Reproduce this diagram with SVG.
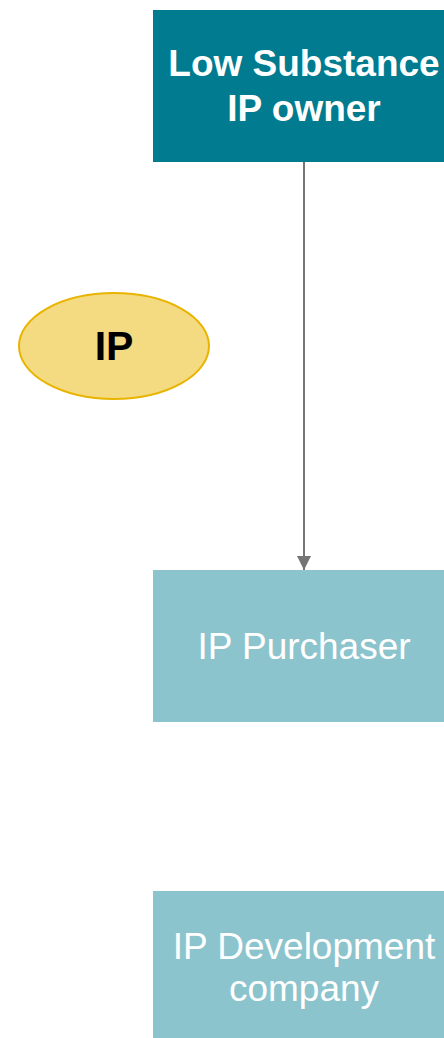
<svg xmlns="http://www.w3.org/2000/svg" width="444" height="1038" viewBox="0 0 444 1038">
<style>
text{font-family:"Liberation Sans",Arial,sans-serif;text-anchor:middle}
.dark{fill:#007B8F}
.light{fill:#8CC4CD}
.t{font-size:37px;fill:#fff}
.b{font-weight:bold}
</style>
<defs>
<marker id="ah" markerWidth="14" markerHeight="16" refX="14" refY="8" orient="auto" markerUnits="userSpaceOnUse">
<path d="M0,1 L14,8 L0,15 Z" fill="#757575"/>
</marker>
</defs>
<rect width="444" height="1038" fill="#fff"/>
<g id="connectors">
<line x1="304" y1="162" x2="304" y2="570" stroke="#757575" stroke-width="2" marker-end="url(#ah)"/>
</g>
<g id="owner">
<rect class="dark" x="153" y="10" width="302" height="152"/>
<text class="t b" x="304" y="76">Low Substance</text>
<text class="t b" x="304" y="121">IP owner</text>
</g>
<g id="ip">
<ellipse cx="114" cy="346" rx="95" ry="53" fill="#F4DA80" stroke="#E8B400" stroke-width="2"/>
<text class="b" x="114" y="360" font-size="41" fill="#000">IP</text>
</g>
<g id="purchaser">
<rect class="light" x="153" y="570" width="302" height="152"/>
<text class="t" x="304" y="659">IP Purchaser</text>
</g>
<g id="dev">
<rect class="light" x="153" y="891" width="302" height="150"/>
<text class="t" x="304" y="959">IP Development</text>
<text class="t" x="304" y="1001">company</text>
</g>
</svg>
